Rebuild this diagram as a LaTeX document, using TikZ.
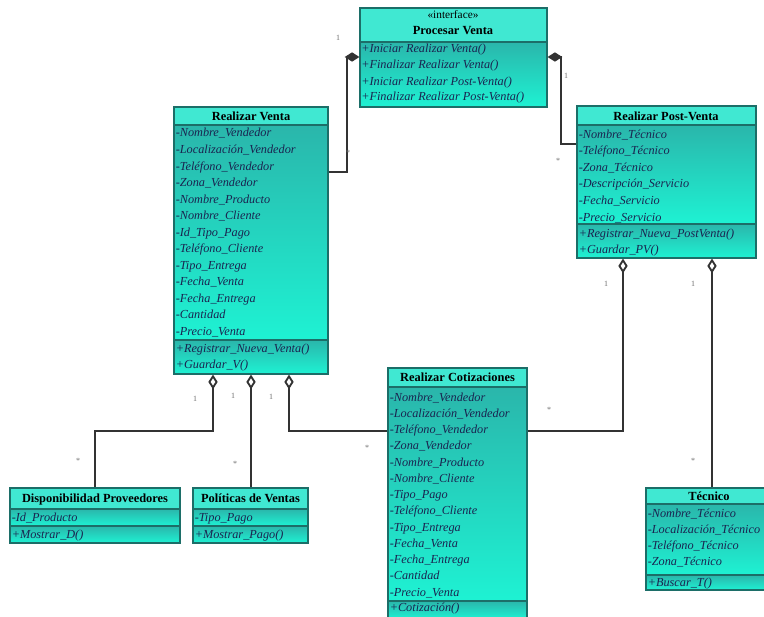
\documentclass[tikz,border=0pt]{standalone}
\usepackage{fontspec}
\setmainfont{Liberation Serif}
\usetikzlibrary{arrows.meta,fit}

\definecolor{hdr}{HTML}{40E8D2}
\definecolor{bodytop}{HTML}{2AB6AB}
\definecolor{bodybot}{HTML}{1EF2D3}
\definecolor{edge}{HTML}{1C6E68}
\definecolor{ink}{HTML}{1A2450}
\definecolor{wire}{HTML}{333333}
\definecolor{multc}{HTML}{707070}

\tikzset{
  classframe/.style={draw=edge, line width=0.9pt, inner sep=0pt},
  compartment/.style={top color=bodytop, bottom color=bodybot, draw=edge, line width=0.8pt},
  headpart/.style={fill=hdr, draw=edge, line width=0.8pt},
  member/.style={anchor=base west, inner sep=0pt, font=\fontsize{9.2}{11}\selectfont\itshape, text=ink},
  title/.style={anchor=base, inner sep=0pt, font=\fontsize{9.3}{11}\selectfont\bfseries},
  stereo/.style={anchor=base, inner sep=0pt, font=\fontsize{8.5}{9}\selectfont},
  link/.style={draw=wire, line width=1.4pt},
  comp/.style={link, -{Diamond[length=11pt,width=7pt]}},
  aggr/.style={link, -{Diamond[open,length=11pt,width=7pt,fill=white]}},
  mult/.style={font=\fontsize{6}{7}\selectfont, text=multc, inner sep=0pt},
}

% class box: name, left, top, right, header bottom, separator, bottom
\newcommand\umlclass[7]{%
  \shadedraw[compartment] (#2,#5) rectangle (#4,#6);
  \shadedraw[compartment] (#2,#6) rectangle (#4,#7);
  \filldraw[headpart] (#2,#3) rectangle (#4,#5);
  \path (#2,#3) coordinate (#1-nw) (#4,#7) coordinate (#1-se);
  \node[classframe, fit=(#1-nw)(#1-se)] (#1) {};
}

% list of members: name prefix, x, first baseline, line step, entries
\newcommand\memberlist[5]{%
  \foreach \txt [count=\i] in {#5}
    \node[member] (#1\i) at (#2,{#3+(\i-1)*#4}) {\txt};
}

\begin{document}
\begin{tikzpicture}[x=0.75pt, y=-0.75pt]
\clip (0,0) rectangle (764,617);
\fill[white] (0,0) rectangle (764,617);

% ---------- classes ----------
\umlclass{iface}{360}{8}{547}{42}{107}{107}
\node[stereo] (ifst) at (453,19) {«interface»};
\node[title] (ifname) at (453,35) {Procesar Venta};
\memberlist{ifm}{361}{53}{16}{+Iniciar Realizar Venta(), +Finalizar Realizar Venta(), +Iniciar Realizar Post-Venta(), +Finalizar Realizar Post-Venta()}

\umlclass{rv}{174}{107}{328}{125}{340}{374}
\node[title] (rvname) at (251,120) {Realizar Venta};
\memberlist{rva}{175.5}{137}{16.5}{-Nombre\_Vendedor, -Localización\_Vendedor, -Teléfono\_Vendedor, -Zona\_Vendedor, -Nombre\_Producto, -Nombre\_Cliente, -Id\_Tipo\_Pago, -Teléfono\_Cliente, -Tipo\_Entrega, -Fecha\_Venta, -Fecha\_Entrega, -Cantidad, -Precio\_Venta}
\memberlist{rvm}{175.5}{352}{16.5}{+Registrar\_Nueva\_Venta(), +Guardar\_V()}

\umlclass{pv}{577}{106}{756}{125}{224}{258}
\node[title] (pvname) at (666,120) {Realizar Post-Venta};
\memberlist{pva}{578.5}{138}{16.6}{-Nombre\_Técnico, -Teléfono\_Técnico, -Zona\_Técnico, -Descripción\_Servicio, -Fecha\_Servicio, -Precio\_Servicio}
\memberlist{pvm}{578.5}{237}{16.6}{+Registrar\_Nueva\_PostVenta(), +Guardar\_PV()}

\umlclass{cot}{388}{368}{527}{387}{601}{619}
\node[title] (cotname) at (457.5,381) {Realizar Cotizaciones};
\memberlist{cota}{389.5}{401}{16.25}{-Nombre\_Vendedor, -Localización\_Vendedor, -Teléfono\_Vendedor, -Zona\_Vendedor, -Nombre\_Producto, -Nombre\_Cliente, -Tipo\_Pago, -Teléfono\_Cliente, -Tipo\_Entrega, -Fecha\_Venta, -Fecha\_Entrega, -Cantidad, -Precio\_Venta}
\memberlist{cotm}{389.5}{611}{16}{+Cotización()}

\umlclass{disp}{10}{488}{180}{509}{526}{543}
\node[title] (dispname) at (95,502) {Disponibilidad Proveedores};
\memberlist{dispa}{11.5}{521}{16}{-Id\_Producto}
\memberlist{dispm}{11.5}{538.5}{16}{+Mostrar\_D()}

\umlclass{pol}{193}{488}{308}{509}{526}{543}
\node[title] (polname) at (250.5,502) {Políticas de Ventas};
\memberlist{pola}{194.5}{521}{16}{-Tipo\_Pago}
\memberlist{polm}{194.5}{538.5}{16}{+Mostrar\_Pago()}

\umlclass{tec}{646}{488}{770}{504}{575}{590}
\node[title] (tecname) at (709,500) {Técnico};
\memberlist{teca}{647.5}{517}{16}{-Nombre\_Técnico, -Localización\_Técnico, -Teléfono\_Técnico, -Zona\_Técnico}
\memberlist{tecm}{647.5}{586}{16}{+Buscar\_T()}

% ---------- connectors ----------
\draw[comp] (rv.east |- 0,172) -- ++(18,0) |- (iface.west |- 0,57);
\draw[comp] (pv.west |- 0,144) -- ++(-15,0) |- (iface.east |- 0,57);
\draw[aggr] (disp.north -| 95,0) -- (95,431) -| (rv.south -| 213,0);
\draw[aggr] (pol.north -| 251,0) -- (rv.south -| 251,0);
\draw[aggr] (cot.west |- 0,431) -| (rv.south -| 289,0);
\draw[aggr] (cot.east |- 0,431) -| (pv.south -| 623,0);
\draw[aggr] (tec.north -| 712,0) -- (pv.south -| 712,0);

% ---------- multiplicities ----------
\node[mult] (m1) at (338,38) {1};
\node[mult] (m2) at (348,153) {*};
\node[mult] (m3) at (566,76) {1};
\node[mult] (m4) at (558,161) {*};
\node[mult] (m5) at (195,399) {1};
\node[mult] (m6) at (233,396) {1};
\node[mult] (m7) at (271,397) {1};
\node[mult] (m8) at (78,461) {*};
\node[mult] (m9) at (235,464) {*};
\node[mult] (m10) at (367,448) {*};
\node[mult] (m11) at (606,284) {1};
\node[mult] (m12) at (693,284) {1};
\node[mult] (m13) at (549,410) {*};
\node[mult] (m14) at (693,461) {*};
\end{tikzpicture}
\end{document}
